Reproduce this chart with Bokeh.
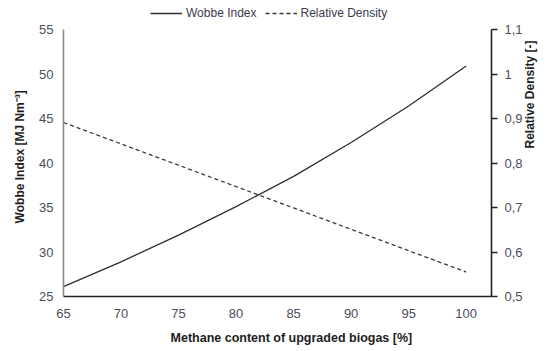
import math
from bokeh.plotting import figure
from bokeh.models import (Range1d, LinearAxis, FixedTicker, CustomJSTickFormatter,
                          Legend, LegendItem)
from bokeh.embed import file_html
from bokeh.resources import INLINE

# Data
methane = [65, 70, 75, 80, 85, 90, 95, 100]
wobbe = [26.1, 28.9, 31.9, 35.1, 38.5, 42.3, 46.4, 50.9]
rel_density = [0.891, 0.843, 0.795, 0.747, 0.699, 0.651, 0.603, 0.555]
x_ticks = [65, 70, 75, 80, 85, 90, 95, 100]
y_ticks = [25, 30, 35, 40, 45, 50, 55]
y2_ticks = [0.5, 0.6, 0.7, 0.8, 0.9, 1.0, 1.1]

FONT = "Liberation Sans"
TICK_COLOR = "#4d4d5c"
LABEL_COLOR = "#1e1e1e"
NB = "\u00a0"  # padding that nudges the axis titles along their axes

# frame extends above the axes' top (55 / 1.1) to leave room for the legend
TOP_EXTRA = 3.26
p = figure(width=546, height=351, output_backend="svg", toolbar_location=None,
           x_range=Range1d(65, 102.2), y_range=Range1d(25, 55 + TOP_EXTRA),
           min_border_left=63, min_border_right=52, min_border_top=0,
           min_border_bottom=55)
p.extra_y_ranges = {"rd": Range1d(0.5, 1.1 + TOP_EXTRA * 0.02)}
p.outline_line_color = None
p.xgrid.grid_line_color = None
p.ygrid.grid_line_color = None
p.background_fill_color = "white"
p.border_fill_color = "white"

# x axis
xa = p.xaxis[0]
xa.ticker = FixedTicker(ticks=x_ticks)
xa.axis_label = NB * 8 + "Methane content of upgraded biogas [%]"
xa.axis_line_color = "#222222"
xa.axis_line_width = 1.6
xa.major_tick_line_color = None
xa.minor_tick_line_color = None
xa.major_tick_out = 0
xa.major_label_standoff = 12
xa.axis_label_standoff = 10

# left axis
ya = p.yaxis[0]
ya.ticker = FixedTicker(ticks=y_ticks)
ya.bounds = (y_ticks[0], y_ticks[-1])
ya.axis_label = "Wobbe Index [MJ Nm⁻³]" + NB * 5
ya.axis_line_color = "#8a8a8a"
ya.axis_line_width = 1.6
ya.major_tick_line_color = None
ya.minor_tick_line_color = None
ya.major_tick_out = 0
ya.major_label_standoff = 10
ya.axis_label_standoff = 9

# right axis
ra = LinearAxis(y_range_name="rd", axis_label="Relative Density [-]" + NB * 5,
                ticker=FixedTicker(ticks=y2_ticks),
                bounds=(y2_ticks[0], y2_ticks[-1]),
                formatter=CustomJSTickFormatter(
                    code="return tick.toFixed(1).replace('.', ',').replace(',0', '');"))
ra.axis_line_color = "#222222"
ra.axis_line_width = 1.6
ra.major_tick_line_color = "#222222"
ra.major_tick_line_width = 1.3
ra.major_tick_out = 6
ra.major_tick_in = 0
ra.minor_tick_line_color = None
ra.major_label_standoff = 7
ra.axis_label_standoff = 4
ra.axis_label_orientation = math.pi / 2
p.add_layout(ra, "right")

for ax in (xa, ya, ra):
    ax.major_label_text_font = FONT
    ax.major_label_text_font_size = "13px"
    ax.major_label_text_color = TICK_COLOR
    ax.axis_label_text_font = FONT
    ax.axis_label_text_font_size = "12px"
    ax.axis_label_text_font_style = "bold"
    ax.axis_label_text_color = LABEL_COLOR
xa.axis_label_text_font_size = "12.5px"

r1 = p.line(methane, wobbe, line_color="#2e2e2e", line_width=1.3)
r2 = p.line(methane, rel_density, y_range_name="rd", line_color="#3a3a3a",
            line_width=1.3, line_dash="4 3")

legend = Legend(items=[LegendItem(label="Wobbe Index", renderers=[r1]),
                       LegendItem(label="Relative Density", renderers=[r2])],
                orientation="horizontal", location=(87, 276),
                glyph_width=32, glyph_height=10, label_standoff=4, spacing=8,
                padding=0, margin=0, border_line_color=None,
                background_fill_alpha=0,
                label_text_font=FONT, label_text_font_size="12px",
                label_text_color="#3c3c50", label_height=10)
p.add_layout(legend, "center")

open("out.html", "w").write(file_html(p, INLINE))
